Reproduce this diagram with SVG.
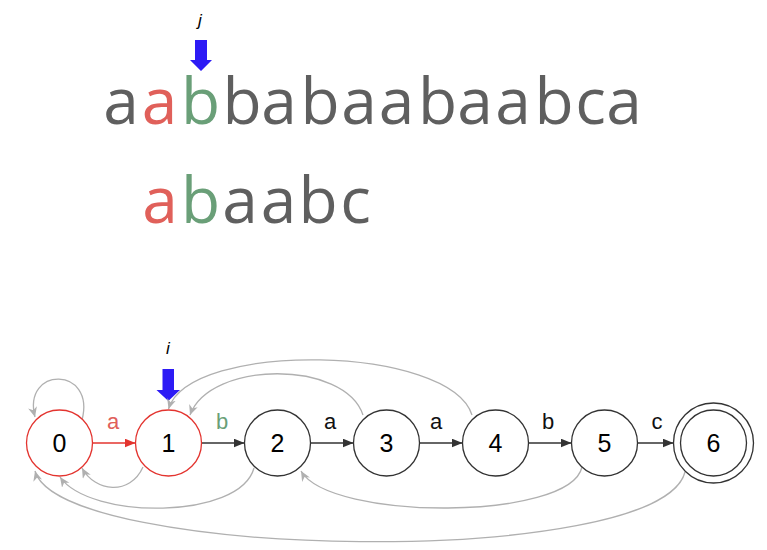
<svg xmlns="http://www.w3.org/2000/svg" width="767" height="550" viewBox="0 0 767 550">
<defs>
<style>
.big{font-family:"Open Sans",Lato,"Liberation Sans",sans-serif;font-size:64px;text-anchor:middle;fill:#5f5f5f}
.red{fill:#e0605a}
.grn{fill:#6a9f78}
.node{fill:#fff;stroke:#333;stroke-width:1.3}
.rnode{fill:#fff;stroke:#e3342f;stroke-width:1.3}
.num{font-family:"Liberation Sans",Arial,sans-serif;font-size:25px;text-anchor:middle;fill:#000}
.lbl{font-family:"Liberation Sans",Arial,sans-serif;font-size:22px;text-anchor:middle;fill:#111}
.ptr{font-family:"Liberation Sans",Arial,sans-serif;font-size:17px;font-style:italic;text-anchor:middle;fill:#000}
.fwd{stroke:#333;stroke-width:1.3;fill:none;marker-end:url(#ah)}
.fwdr{stroke:#e3342f;stroke-width:1.3;fill:none;marker-end:url(#ahr)}
.back{stroke:#b0b0b0;stroke-width:1.3;fill:none;marker-end:url(#ahg)}
.blue{fill:#2d1bf5}
</style>
<marker id="ah" markerUnits="userSpaceOnUse" markerWidth="12" markerHeight="10" refX="11" refY="4.5" orient="auto"><path d="M0,0 L11,4.5 L0,9 z" fill="#333"/></marker>
<marker id="ahr" markerUnits="userSpaceOnUse" markerWidth="12" markerHeight="10" refX="11" refY="4.5" orient="auto"><path d="M0,0 L11,4.5 L0,9 z" fill="#e3342f"/></marker>
<marker id="ahg" markerUnits="userSpaceOnUse" markerWidth="11" markerHeight="10" refX="10" refY="4.5" orient="auto"><path d="M0,0 L10,4.5 L0,9 L3,4.5 z" fill="#b0b0b0"/></marker>
</defs>

<g id="text-string">
<text class="big" y="124"><tspan x="121">a</tspan><tspan x="159.5" class="red">a</tspan><tspan x="200.5" class="grn">b</tspan><tspan x="242">b</tspan><tspan x="279">a</tspan><tspan x="320">b</tspan><tspan x="359">a</tspan><tspan x="396.5">a</tspan><tspan x="437.5">b</tspan><tspan x="475">a</tspan><tspan x="513">a</tspan><tspan x="554">b</tspan><tspan x="590.5">c</tspan><tspan x="624">a</tspan></text>
</g>
<g id="pattern-string">
<text class="big" y="223"><tspan x="160" class="red">a</tspan><tspan x="200.5" class="grn">b</tspan><tspan x="240">a</tspan><tspan x="278.5">a</tspan><tspan x="318">b</tspan><tspan x="355.5">c</tspan></text>
</g>
<g id="pointer-j">
<text class="ptr" x="200" y="26">j</text>
<path class="blue" d="M195,40 H207 V60 H212 L201,71 L190,60 H195 z"/>
</g>
<g id="pointer-i">
<text class="ptr" x="168" y="354">i</text>
<path class="blue" d="M162.5,369 H174 V390 H180 L168.3,401 L156.5,390 H162.5 z"/>
</g>

<g id="connectors">
<line class="fwdr" x1="92.5" y1="443" x2="135.5" y2="443"/>
<line class="fwd" x1="201.5" y1="443" x2="244.5" y2="443"/>
<line class="fwd" x1="310.5" y1="443" x2="353.5" y2="443"/>
<line class="fwd" x1="419.5" y1="443" x2="462.5" y2="443"/>
<line class="fwd" x1="528.5" y1="443" x2="571.5" y2="443"/>
<line class="fwd" x1="637.5" y1="443" x2="673.5" y2="443"/>
<path class="back" d="M82,420 C96,366 22,366 35,417"/>
<path class="back" d="M143,467 C130,496 95,492 82,468"/>
<path class="back" d="M254,468 C240,520 90,520 60,477"/>
<path class="back" d="M582,467 C570,521 330,521 301,471"/>
<path class="back" d="M685,472 C660,570 60,560 35,471"/>
<path class="back" d="M363,415 C345,360 210,360 190,415"/>
<path class="back" d="M472,415 C450,345 190,340 168.5,409"/>
<text class="lbl" x="113" y="429" style="fill:#e0605a">a</text>
<text class="lbl" x="222" y="429" style="fill:#6a9f78">b</text>
<text class="lbl" x="330" y="429">a</text>
<text class="lbl" x="436" y="429">a</text>
<text class="lbl" x="548" y="429">b</text>
<text class="lbl" x="657" y="429">c</text>
</g>

<g id="node0"><circle class="rnode" cx="59.5" cy="443" r="33"/><text class="num" x="59.5" y="452">0</text></g>
<g id="node1"><circle class="rnode" cx="168.5" cy="443" r="33"/><text class="num" x="168.5" y="452">1</text></g>
<g id="node2"><circle class="node" cx="277.5" cy="443" r="33"/><text class="num" x="277.5" y="452">2</text></g>
<g id="node3"><circle class="node" cx="386.5" cy="443" r="33"/><text class="num" x="386.5" y="452">3</text></g>
<g id="node4"><circle class="node" cx="495.5" cy="443" r="33"/><text class="num" x="495.5" y="452">4</text></g>
<g id="node5"><circle class="node" cx="604.5" cy="443" r="33"/><text class="num" x="604.5" y="452">5</text></g>
<g id="node6"><circle class="node" cx="713.5" cy="443" r="40"/><circle class="node" cx="713.5" cy="443" r="33"/><text class="num" x="713.5" y="452">6</text></g>
</svg>
